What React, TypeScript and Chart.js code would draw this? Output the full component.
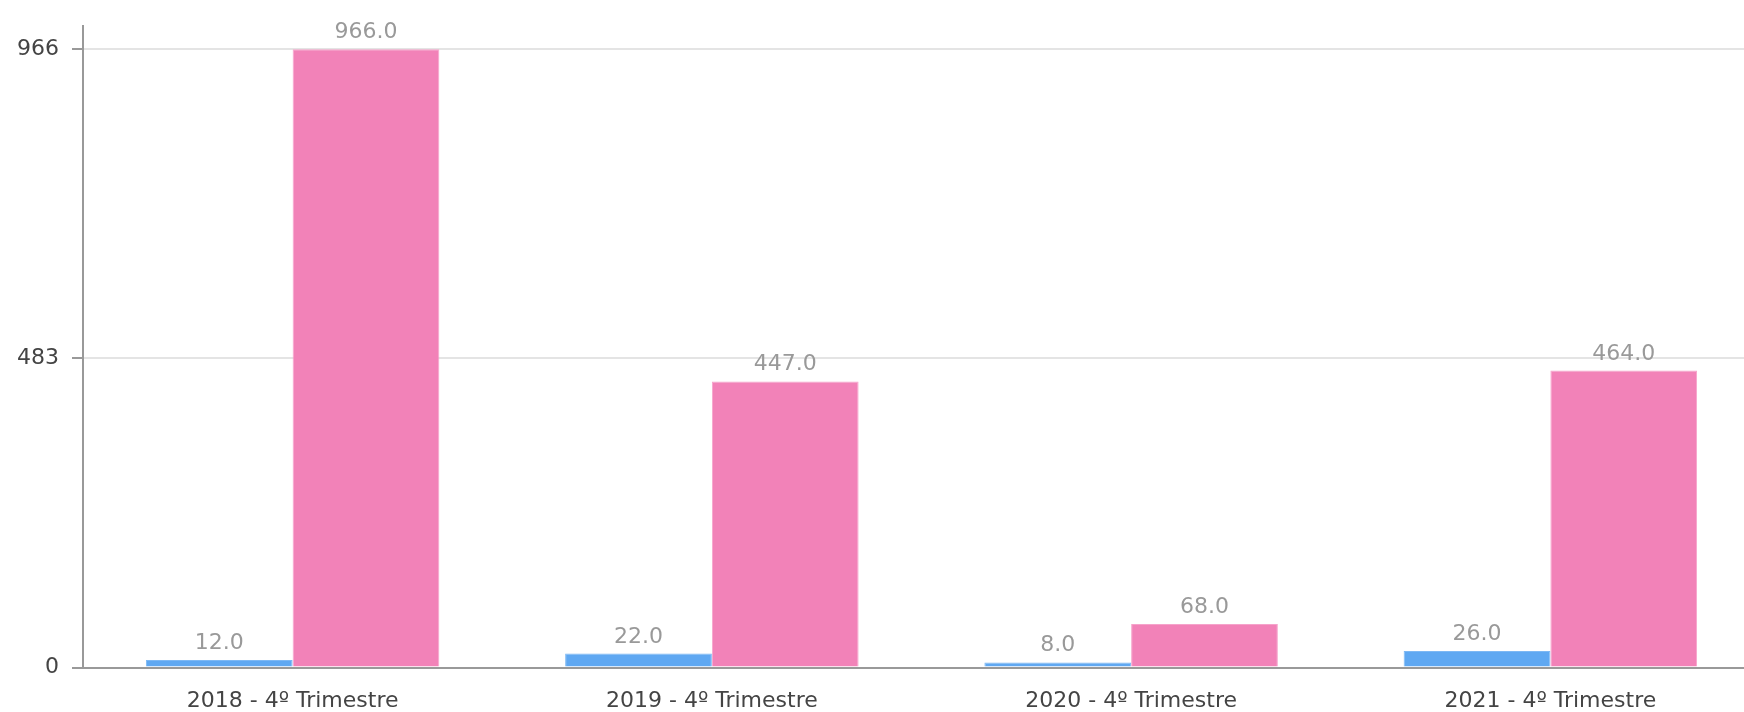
import React, { useEffect, useRef } from "react";
import { Chart, registerables } from "chart.js";

Chart.register(...registerables);

const categories = [
  "2018 - 4º Trimestre",
  "2019 - 4º Trimestre",
  "2020 - 4º Trimestre",
  "2021 - 4º Trimestre",
];
const seriesBlue = [12, 22, 8, 26];
const seriesPink = [966, 447, 68, 464];
const yTickValues = [0, 483, 966];
const yMax = 1002;

const FONT = "'DejaVu Sans', sans-serif";

const valueLabels = {
  id: "valueLabels",
  afterDatasetsDraw(chart: any) {
    const ctx = chart.ctx;
    ctx.save();
    ctx.font = `22px ${FONT}`;
    ctx.fillStyle = "#999999";
    ctx.textAlign = "center";
    ctx.textBaseline = "alphabetic";
    chart.data.datasets.forEach((ds: any, di: number) => {
      const meta = chart.getDatasetMeta(di);
      meta.data.forEach((el: any, i: number) => {
        const v = ds.data[i] as number;
        ctx.fillText(v.toFixed(1), el.x, el.y - 11);
      });
    });
    ctx.restore();
  },
};

export default function App() {
  const ref = useRef<HTMLCanvasElement | null>(null);

  useEffect(() => {
    if (!ref.current) return;
    const chart = new Chart(ref.current, {
      type: "bar",
      data: {
        labels: categories,
        datasets: [
          {
            label: "Série 1",
            data: seriesBlue,
            backgroundColor: "#5fa8f2",
            borderColor: "#7db8f4",
            borderWidth: 1,
            categoryPercentage: 0.7,
            barPercentage: 1,
          },
          {
            label: "Série 2",
            data: seriesPink,
            backgroundColor: "#f282b8",
            borderColor: "#f6a3cb",
            borderWidth: 1,
            categoryPercentage: 0.7,
            barPercentage: 1,
          },
        ],
      },
      options: {
        animation: false,
        responsive: true,
        maintainAspectRatio: false,
        layout: { padding: { top: 19.5, left: 4, right: 0, bottom: 0 } },
        plugins: {
          legend: { display: false },
          tooltip: { enabled: false },
        },
        scales: {
          x: {
            grid: { display: false, drawTicks: false },
            border: { display: true, color: "#999999", width: 2 },
            ticks: {
              padding: 20,
              color: "#444444",
              font: { family: FONT, size: 22 },
              maxRotation: 0,
              autoSkip: false,
            },
          },
          y: {
            min: 0,
            max: yMax,
            afterBuildTicks: (scale: any) => {
              scale.ticks = yTickValues.map((v) => ({ value: v }));
            },
            grid: {
              color: "#e4e4e4",
              lineWidth: 2,
              drawTicks: true,
              tickLength: 11,
              tickColor: "#999999",
              tickWidth: 2,
            },
            border: { display: true, color: "#999999", width: 2 },
            ticks: {
              padding: 13,
              color: "#444444",
              font: { family: FONT, size: 22 },
              callback: (v: any) => String(v),
            },
          },
        },
      },
      plugins: [valueLabels],
    });
    return () => chart.destroy();
  }, []);

  return (
    <div
      style={{
        position: "fixed",
        left: 0,
        top: 0,
        width: 1744,
        height: 712,
        overflow: "hidden",
        background: "#ffffff",
      }}
    >
      <div style={{ position: "relative", width: 1760, height: 734 }}>
        <canvas ref={ref} />
      </div>
    </div>
  );
}
